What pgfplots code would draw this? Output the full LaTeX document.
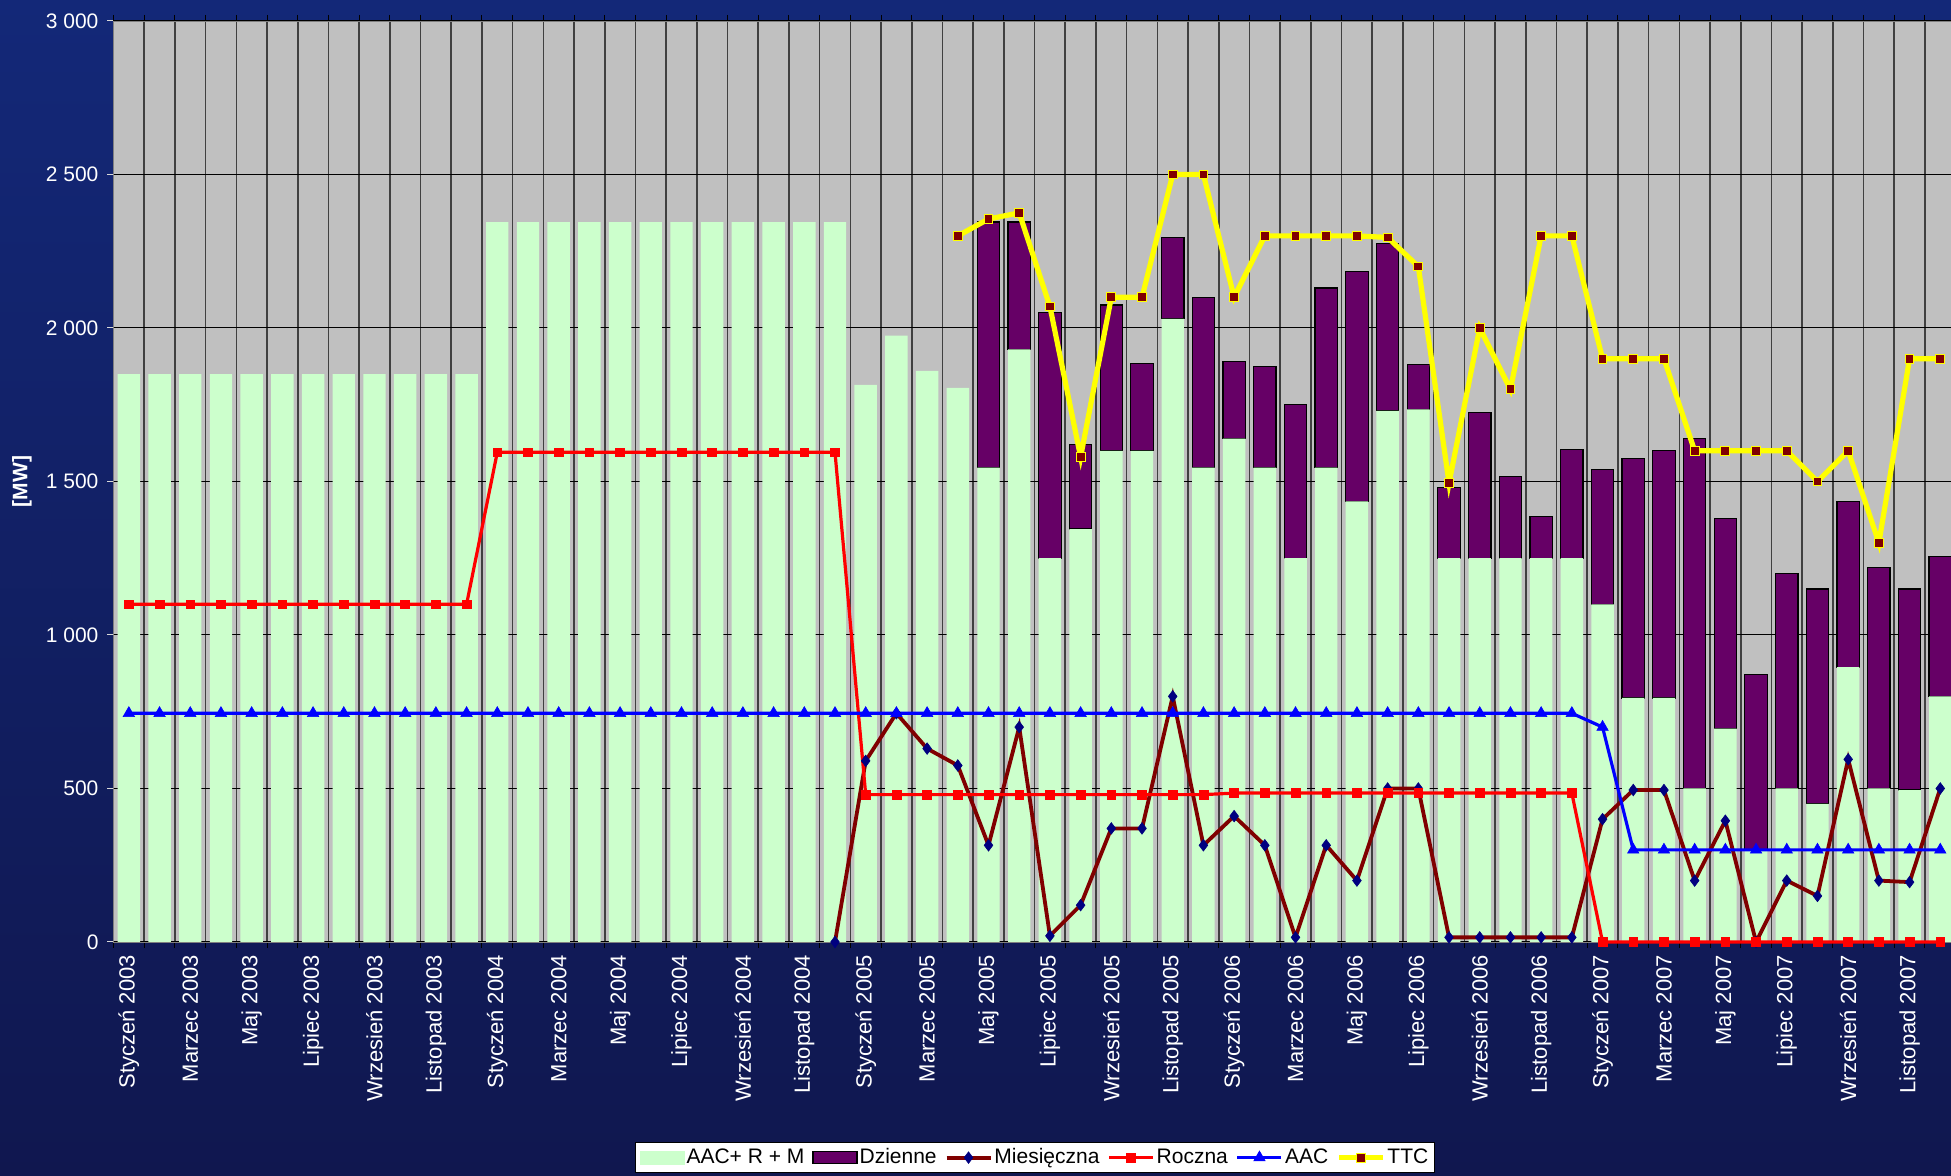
\documentclass[border=0pt]{standalone}
\usepackage{pgfplots}
\pgfplotsset{compat=1.18}
\usepackage{fontspec}
\setmainfont{Liberation Sans}
\definecolor{bgtop}{HTML}{132878}
\definecolor{bgbot}{HTML}{10174F}
\definecolor{plotgray}{HTML}{C0C0C0}
\definecolor{aacg}{HTML}{CCFFCC}
\definecolor{dzien}{HTML}{660066}
\definecolor{mies}{HTML}{800000}
\definecolor{navym}{HTML}{000080}
\definecolor{rocz}{HTML}{FF0000}
\definecolor{aacb}{HTML}{0000FF}
\definecolor{ttcy}{HTML}{FFFF00}
\pgfplotsset{
  base/.style={
    at={(56.75pt,117pt)}, anchor=south west,
    width=918.75pt, height=460.5pt, scale only axis,
    xmin=-0.5, xmax=59.35, ymin=0, ymax=3000,
  }
}
\begin{document}
\begin{tikzpicture}
\useasboundingbox (0,0) rectangle (975.5pt,588pt);
\clip (0,0) rectangle (975.5pt,588pt);
\shade[top color=bgtop, bottom color=bgbot] (0,0) rectangle (975.5pt,588pt);
% axis 1: frame, grid, ticks, early bars
\begin{axis}[base,
  axis background/.style={fill=plotgray},
  axis line style={draw=gray},
  ytick={0,500,...,3000},
  xtick={0,2,...,58},
  xticklabels={Styczeń 2003, Marzec 2003, Maj 2003, Lipiec 2003, Wrzesień 2003, Listopad 2003,
               Styczeń 2004, Marzec 2004, Maj 2004, Lipiec 2004, Wrzesień 2004, Listopad 2004,
               Styczeń 2005, Marzec 2005, Maj 2005, Lipiec 2005, Wrzesień 2005, Listopad 2005,
               Styczeń 2006, Marzec 2006, Maj 2006, Lipiec 2006, Wrzesień 2006, Listopad 2006,
               Styczeń 2007, Marzec 2007, Maj 2007, Lipiec 2007, Wrzesień 2007, Listopad 2007},
  minor xtick={-0.5,0.5,...,59.5},
  tick align=outside,
  major tick length=3pt, minor tick length=3pt,
  major x tick style={draw=none},
  minor x tick style={draw=black, line width=0.5pt},
  major y tick style={draw=white!70!gray, line width=0.5pt},
  ymajorgrids, xminorgrids,
  major y grid style={draw=black, line width=0.5pt},
  minor x grid style={draw=black!75, line width=0.8pt},
  tick label style={text=white},
  yticklabel style={font=\fontsize{10.5}{12}\selectfont, xshift=-1pt},
  xticklabel style={rotate=90, anchor=east, font=\fontsize{11}{13}\selectfont},
  /pgf/number format/assume math mode=true,
  /pgf/number format/1000 sep={\ },
  scaled y ticks=false,
  ylabel={[MW]},
  ylabel style={at={(axis description cs:-0.0498,0.5)}, anchor=center, text=white,
                font=\bfseries\fontsize{10.5}{12}\selectfont},
]
\addplot[ybar, bar width=0.73, fill=aacg, draw=none] coordinates {
(0,1850) (1,1850) (2,1850) (3,1850) (4,1850) (5,1850) (6,1850) (7,1850) (8,1850) (9,1850) (10,1850) (11,1850)
(12,2345) (13,2345) (14,2345) (15,2345) (16,2345) (17,2345) (18,2345) (19,2345) (20,2345) (21,2345) (22,2345) (23,2345)
(24,1815) (25,1975) (26,1860) (27,1805)};
\end{axis}
% axis 2: stacked bars
\begin{axis}[base, hide axis, ybar stacked, bar width=0.73]
\addplot[fill=aacg, draw=none] coordinates {
(28,1545) (29,1930) (30,1250) (31,1345) (32,1600) (33,1600) (34,2030) (35,1545) (36,1640) (37,1545)
(38,1250) (39,1545) (40,1435) (41,1730) (42,1735) (43,1250) (44,1250) (45,1250) (46,1250) (47,1250)
(48,1100) (49,795) (50,795) (51,500) (52,695) (53,300) (54,500) (55,450) (56,895) (57,500) (58,495) (59,800)};
\addplot[fill=dzien, draw=black, line width=0.6pt] coordinates {
(28,800) (29,415) (30,800) (31,275) (32,475) (33,285) (34,265) (35,555) (36,250) (37,330)
(38,500) (39,585) (40,750) (41,545) (42,145) (43,230) (44,475) (45,265) (46,135) (47,355)
(48,440) (49,780) (50,805) (51,1140) (52,685) (53,570) (54,700) (55,700) (56,540) (57,720) (58,655) (59,455)};
\end{axis}
% axis 3: lines and legend
\begin{axis}[base, hide axis, clip=false,
  legend columns=6,
  legend image code/.code={\draw[mark repeat=2,mark phase=2,#1] plot coordinates {(0pt,0pt) (11pt,0pt) (22pt,0pt)};},
  legend style={at={(axis description cs:0.5015,-0.2173)}, anchor=north, fill=white, draw=black,
    inner sep=2pt, font=\fontsize{10.5}{12}\selectfont, nodes={inner sep=1pt, text=black},
    /tikz/every even column/.append style={column sep=3pt}},
]
\addlegendimage{legend image code/.code={\fill[aacg] (0pt,-3.2pt) rectangle (22pt,3.2pt);}}
\addlegendentry{AAC+ R + M}
\addlegendimage{legend image code/.code={\draw[fill=dzien,draw=black,line width=0.6pt] (0pt,-3pt) rectangle (22pt,3pt);}}
\addlegendentry{Dzienne}
\addplot[mies, line width=1.9pt, mark=diamond*, mark size=2.9pt, mark options={fill=navym, draw=navym, line width=0.3pt}] coordinates {
(23,0) (24,590) (25,745) (26,630) (27,575) (28,315) (29,700) (30,20) (31,120) (32,370) (33,370)
(34,800) (35,315) (36,410) (37,315) (38,15) (39,315) (40,200) (41,500) (42,500) (43,15) (44,15)
(45,15) (46,15) (47,15) (48,400) (49,495) (50,495) (51,200) (52,395) (53,0) (54,200) (55,150)
(56,595) (57,200) (58,195) (59,500)};
\addlegendentry{Miesięczna}
\addplot[rocz, line width=1.6pt, mark=square*, mark size=2.2pt, mark options={fill=rocz, draw=rocz, line width=0.3pt}] coordinates {
(0,1100) (1,1100) (2,1100) (3,1100) (4,1100) (5,1100) (6,1100) (7,1100) (8,1100) (9,1100) (10,1100) (11,1100)
(12,1595) (13,1595) (14,1595) (15,1595) (16,1595) (17,1595) (18,1595) (19,1595) (20,1595) (21,1595) (22,1595) (23,1595)
(24,480) (25,480) (26,480) (27,480) (28,480) (29,480) (30,480) (31,480) (32,480) (33,480) (34,480) (35,480)
(36,485) (37,485) (38,485) (39,485) (40,485) (41,485) (42,485) (43,485) (44,485) (45,485) (46,485) (47,485)
(48,0) (49,0) (50,0) (51,0) (52,0) (53,0) (54,0) (55,0) (56,0) (57,0) (58,0) (59,0)};
\addlegendentry{Roczna}
\addplot[aacb, line width=1.6pt, mark=triangle*, mark size=3.3pt, mark options={fill=aacb, draw=aacb, line width=0.3pt}] coordinates {
(0,745) (1,745) (2,745) (3,745) (4,745) (5,745) (6,745) (7,745) (8,745) (9,745) (10,745) (11,745)
(12,745) (13,745) (14,745) (15,745) (16,745) (17,745) (18,745) (19,745) (20,745) (21,745) (22,745) (23,745)
(24,745) (25,745) (26,745) (27,745) (28,745) (29,745) (30,745) (31,745) (32,745) (33,745) (34,745) (35,745)
(36,745) (37,745) (38,745) (39,745) (40,745) (41,745) (42,745) (43,745) (44,745) (45,745) (46,745) (47,745)
(48,700) (49,300) (50,300) (51,300) (52,300) (53,300) (54,300) (55,300) (56,300) (57,300) (58,300) (59,300)};
\addlegendentry{AAC}
\addplot[ttcy, line width=2.6pt, mark=square*, mark size=2.2pt, mark options={fill=mies, draw=ttcy, line width=0.5pt}] coordinates {
(27,2300) (28,2355) (29,2375) (30,2070) (31,1580) (32,2100) (33,2100) (34,2500) (35,2500) (36,2100)
(37,2300) (38,2300) (39,2300) (40,2300) (41,2295) (42,2200) (43,1495) (44,2000) (45,1800) (46,2300)
(47,2300) (48,1900) (49,1900) (50,1900) (51,1600) (52,1600) (53,1600) (54,1600) (55,1500) (56,1600)
(57,1300) (58,1900) (59,1900)};
\addlegendentry{TTC}
\end{axis}
\end{tikzpicture}
\end{document}
